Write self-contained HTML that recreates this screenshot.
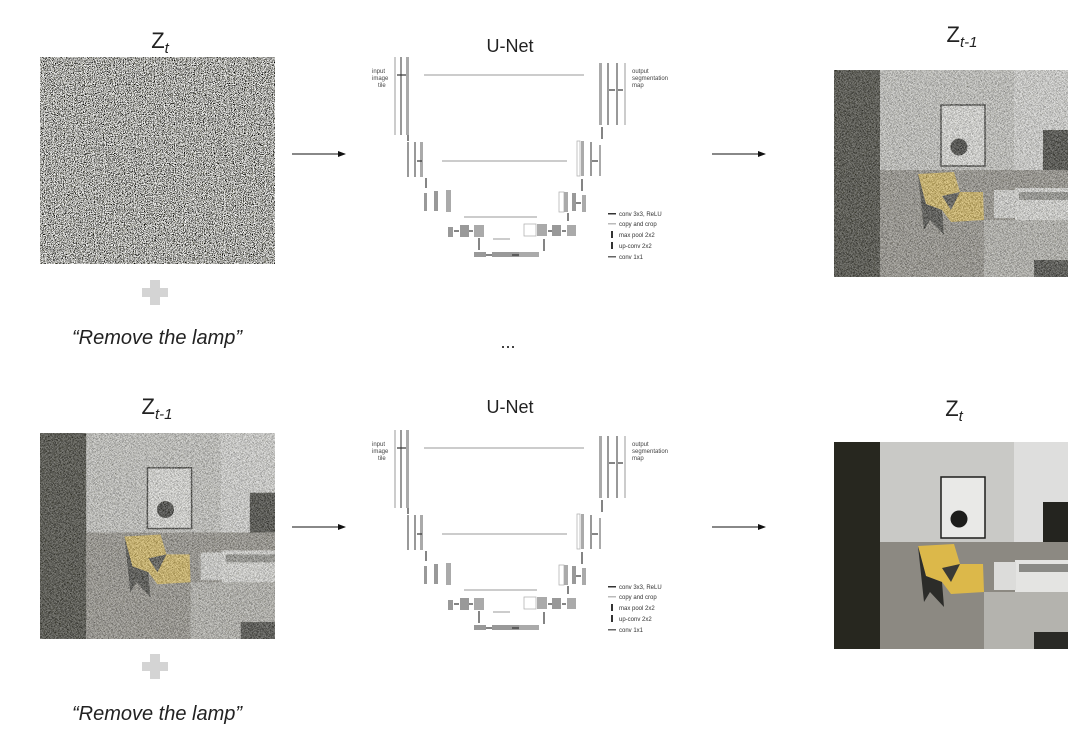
<!DOCTYPE html>
<html><head><meta charset="utf-8"><style>
html,body{margin:0;padding:0;background:#fff;}
svg{display:block;}
text{font-family:"Liberation Sans",sans-serif;}
</style></head><body>
<svg width="1086" height="742" viewBox="0 0 1086 742">
<defs>
<filter id="noise" x="0" y="0" width="100%" height="100%">
<feTurbulence type="fractalNoise" baseFrequency="1.1" numOctaves="2" seed="3"/>
<feColorMatrix type="matrix" values="0.33 0.33 0.33 0 0  0.33 0.33 0.33 0 0  0.33 0.33 0.33 0 0  0 0 0 0 1"/>
<feComponentTransfer><feFuncR type="linear" slope="6" intercept="-2.5"/><feFuncG type="linear" slope="6" intercept="-2.5"/><feFuncB type="linear" slope="6" intercept="-2.52"/></feComponentTransfer>
</filter>
<filter id="noise2" x="0" y="0" width="100%" height="100%">
<feTurbulence type="fractalNoise" baseFrequency="1.0" numOctaves="2" seed="7"/>
<feColorMatrix type="matrix" values="0.33 0.33 0.33 0 0  0.33 0.33 0.33 0 0  0.33 0.33 0.33 0 0  0 0 0 0 1"/>
<feComponentTransfer><feFuncR type="linear" slope="6" intercept="-2.5"/><feFuncG type="linear" slope="6" intercept="-2.5"/><feFuncB type="linear" slope="6" intercept="-2.52"/></feComponentTransfer>
</filter>
<marker id="ah" markerWidth="8" markerHeight="8" refX="7" refY="4" orient="auto"><path d="M0,1 L8,4 L0,7 z" fill="#111"/></marker>
<g id="room">
<rect x="0" y="0" width="234" height="207" fill="#c9c9c6"/>
<rect x="180" y="0" width="54" height="160" fill="#dededd"/>
<rect x="46" y="100" width="188" height="107" fill="#8c8982"/>
<rect x="150" y="150" width="84" height="57" fill="#b4b3ae"/>
<rect x="200" y="190" width="34" height="17" fill="#2a2a26"/>
<rect x="0" y="0" width="46" height="207" fill="#27271f"/>
<rect x="107" y="35" width="44" height="61" fill="#e9e9e7" stroke="#1d1d1b" stroke-width="1.5"/>
<circle cx="125" cy="77" r="8.5" fill="#1d1d1b"/>
<rect x="209" y="60" width="25" height="40" fill="#24241f"/>
<rect x="181" y="118" width="53" height="32" fill="#e4e4e2"/>
<rect x="185" y="122" width="49" height="8" fill="#8a8a86"/>
<rect x="160" y="120" width="22" height="28" fill="#dcdcda"/>
<path d="M84,104 L120,102 L126,122 L149,122 L150,150 L117,152 L108,140 L92,134 Z" fill="#dcb84a"/>
<path d="M84,104 L92,134 L108,140 L110,165 L96,150 L90,160 Z" fill="#2c2c29"/>
<path d="M108,126 L126,122 L117,140 Z" fill="#3a3a36"/>
</g>
<g id="unet" fill="#aaa">
<rect x="32" y="2" width="2" height="78" fill="#ccc"/><rect x="38" y="2" width="2" height="78" fill="#999"/><rect x="44" y="2" width="3" height="78"/>
<text x="10" y="18" font-size="6" fill="#444">input</text><text x="10" y="25" font-size="6" fill="#444">image</text><text x="16" y="32" font-size="6" fill="#444">tile</text>
<rect x="45" y="87" width="2" height="35" fill="#999"/><rect x="52" y="87" width="2" height="35" fill="#999"/><rect x="58" y="87" width="3" height="35"/>
<rect x="62" y="138" width="3" height="18" fill="#999"/><rect x="72" y="136" width="4" height="20" fill="#999"/><rect x="84" y="135" width="5" height="22"/>
<rect x="86" y="172" width="5" height="10" fill="#999"/><rect x="98" y="170" width="9" height="12" fill="#999"/><rect x="112" y="170" width="10" height="12"/>
<rect x="112" y="197" width="12" height="5" fill="#999"/><rect x="130" y="197" width="27" height="5" fill="#999"/><rect x="157" y="197" width="20" height="5"/>
<rect x="162" y="169" width="12" height="12" fill="#fff" stroke="#aaa" stroke-width="0.7"/><rect x="175" y="169" width="10" height="12"/><rect x="190" y="170" width="9" height="11" fill="#999"/><rect x="205" y="170" width="9" height="11"/>
<rect x="197" y="137" width="5" height="20" fill="#fff" stroke="#aaa" stroke-width="0.7"/><rect x="202" y="137" width="4" height="20"/><rect x="210" y="138" width="4" height="18" fill="#999"/><rect x="220" y="140" width="4" height="17"/>
<rect x="215" y="86" width="3" height="35" fill="#fff" stroke="#aaa" stroke-width="0.7"/><rect x="219" y="86" width="3" height="35"/><rect x="228" y="87" width="2" height="34" fill="#999"/><rect x="237" y="90" width="2" height="31"/>
<rect x="237" y="8" width="3" height="62"/><rect x="245" y="8" width="2" height="62" fill="#999"/><rect x="254" y="8" width="2" height="62" fill="#999"/><rect x="262" y="8" width="2" height="62" fill="#ccc"/>
<text x="270" y="18" font-size="6" fill="#444">output</text><text x="270" y="25" font-size="6" fill="#444">segmentation</text><text x="270" y="32" font-size="6" fill="#444">map</text>
<g stroke="#bbb" stroke-width="1.6"><line x1="62" y1="20" x2="222" y2="20"/><line x1="80" y1="106" x2="205" y2="106"/><line x1="102" y1="162" x2="175" y2="162"/><line x1="131" y1="184" x2="148" y2="184"/></g>
<g stroke="#333" stroke-width="1.2"><line x1="35" y1="20" x2="44" y2="20"/><line x1="46" y1="80" x2="46" y2="86"/><line x1="55" y1="106" x2="60" y2="106"/><line x1="64" y1="123" x2="64" y2="133"/><line x1="92" y1="176" x2="97" y2="176"/><line x1="107" y1="176" x2="111" y2="176"/><line x1="117" y1="183" x2="117" y2="195"/><line x1="124" y1="200" x2="130" y2="200"/><line x1="150" y1="200" x2="157" y2="200"/><line x1="182" y1="184" x2="182" y2="196"/><line x1="186" y1="176" x2="190" y2="176"/><line x1="200" y1="176" x2="204" y2="176"/><line x1="206" y1="166" x2="206" y2="158"/><line x1="214" y1="148" x2="219" y2="148"/><line x1="220" y1="136" x2="220" y2="124"/><line x1="230" y1="106" x2="236" y2="106"/><line x1="240" y1="84" x2="240" y2="72"/><line x1="247" y1="35" x2="253" y2="35"/><line x1="256" y1="35" x2="261" y2="35"/></g>
<g font-size="6" fill="#333"><rect x="246" y="158" width="8" height="1.5" fill="#333"/><text x="257" y="161">conv 3x3, ReLU</text>
<rect x="246" y="168" width="8" height="1.5" fill="#bbb"/><text x="257" y="171">copy and crop</text>
<rect x="249" y="176" width="2" height="7" fill="#333"/><text x="257" y="182">max pool 2x2</text>
<rect x="249" y="187" width="2" height="7" fill="#333"/><text x="257" y="193">up-conv 2x2</text>
<rect x="246" y="201" width="8" height="1.5" fill="#666"/><text x="257" y="204">conv 1x1</text></g>
</g>
</defs>

<text x="160" y="48" font-size="22" text-anchor="middle" fill="#222">Z<tspan font-size="15" dy="5" font-style="italic">t</tspan></text>
<rect x="40" y="57" width="235" height="207" filter="url(#noise)"/>
<path d="M150,280 h10 v8 h8 v9 h-8 v8 h-10 v-8 h-8 v-9 h8 z" fill="#d4d4d4"/>
<text x="157" y="344" font-size="20" font-style="italic" text-anchor="middle" fill="#222">“Remove the lamp”</text>
<line x1="292" y1="154" x2="345" y2="154" stroke="#111" stroke-width="1" marker-end="url(#ah)"/>
<text x="510" y="52" font-size="18" text-anchor="middle" fill="#222">U-Net</text>
<use href="#unet" x="362" y="55"/>
<line x1="712" y1="154" x2="765" y2="154" stroke="#111" stroke-width="1" marker-end="url(#ah)"/>
<text x="962" y="42" font-size="22" text-anchor="middle" fill="#222">Z<tspan font-size="15" dy="5" font-style="italic">t-1</tspan></text>
<g>
<use href="#room" x="834" y="70"/>
<rect x="834" y="70" width="234" height="207" filter="url(#noise2)" opacity="0.45"/>
</g>
<text x="508" y="348" font-size="18" text-anchor="middle" fill="#222">...</text>

<text x="157" y="414" font-size="22" text-anchor="middle" fill="#222">Z<tspan font-size="15" dy="5" font-style="italic">t-1</tspan></text>
<g>
<use href="#room" transform="translate(40,433) scale(1.004,0.995)"/>
<rect x="40" y="433" width="235" height="206" filter="url(#noise2)" opacity="0.45"/>
</g>
<path d="M150,654 h10 v8 h8 v9 h-8 v8 h-10 v-8 h-8 v-9 h8 z" fill="#d4d4d4"/>
<text x="157" y="720" font-size="20" font-style="italic" text-anchor="middle" fill="#222">“Remove the lamp”</text>
<line x1="292" y1="527" x2="345" y2="527" stroke="#111" stroke-width="1" marker-end="url(#ah)"/>
<text x="510" y="413" font-size="18" text-anchor="middle" fill="#222">U-Net</text>
<use href="#unet" x="362" y="428"/>
<line x1="712" y1="527" x2="765" y2="527" stroke="#111" stroke-width="1" marker-end="url(#ah)"/>
<text x="954" y="416" font-size="22" text-anchor="middle" fill="#222">Z<tspan font-size="15" dy="5" font-style="italic">t</tspan></text>
<use href="#room" x="834" y="442"/>
</svg>
</body></html>
